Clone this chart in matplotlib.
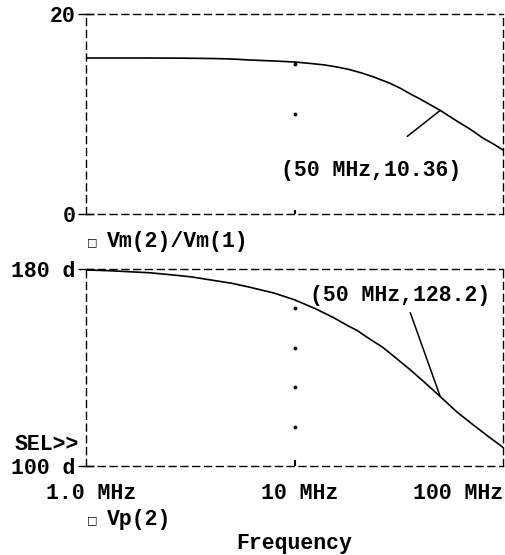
import numpy as np
import matplotlib
matplotlib.use('Agg')
import matplotlib.pyplot as plt
from matplotlib.transforms import ScaledTranslation

#%% Datos
freq_mag = [1, 2, 3, 4, 5, 6.1, 8, 10, 12, 14, 16, 18.3, 21, 24, 28.5,
            32, 36, 40, 45, 50, 60, 70, 80, 90, 100]                      # MHz
mag = [15.6, 15.6, 15.58, 15.55, 15.5, 15.4, 15.3, 15.2, 15.05, 14.9, 14.7,
       14.45, 14.1, 13.7, 13.1, 12.6, 12.0, 11.5, 10.9, 10.36, 9.3, 8.45,
       7.6, 7.0, 6.4]

freq_ph = [1, 1.3, 1.6, 2, 2.6, 3.2, 4, 5, 6.1, 8, 10, 12.5, 15.2, 18, 20,
           23, 26.4, 30, 36, 42, 50, 60, 70, 85, 100]                     # MHz
phase = [179.6, 179.3, 178.9, 178.5, 177.6, 176.8, 175.5, 174.2, 172.6,
         170.2, 167.5, 164, 160.5, 157, 155, 151.5, 148.3, 144.5, 139, 134,
         128.2, 122, 117.5, 112, 107.6]

grid_mag = [10, 15]
grid_ph = [116, 132, 148, 164]

xticks = [1, 10, 100]
xticklabels = ['1.0 MHz', '10 MHz', '100 MHz']

cursor_f = 50
cursor_mag = 10.36
cursor_ph = 128.2

#%% Estilo
FONT = 'Liberation Mono'
FS = 15.5
plt.rcParams['font.family'] = [FONT, 'DejaVu Sans']
plt.rcParams['font.weight'] = 'bold'

W, H = 505, 555
fig = plt.figure(figsize=(W / 100, H / 100), dpi=100)


def px(x0, y0, x1, y1):
    return [x0 / W, 1 - y1 / H, (x1 - x0) / W, (y1 - y0) / H]


ax1 = fig.add_axes(px(86, 14, 503, 214))
ax2 = fig.add_axes(px(86, 269, 503, 466))

dash = (0, (5, 3.5))
for ax in (ax1, ax2):
    ax.set_xscale('log')
    ax.set_xlim(1, 100)
    for s in ax.spines.values():
        s.set_linestyle(dash)
        s.set_linewidth(1.0)
    ax.tick_params(axis='y', direction='inout', length=11, width=1.0,
                   labelsize=FS, pad=2)
    ax.tick_params(axis='x', which='both', direction='in', length=0)
    ax.minorticks_off()

#%% Magnitud
ax1.plot(freq_mag, mag, color='black', lw=1.2)
ax1.set_ylim(0, 20)
ax1.set_yticks([0, 20])
ax1.set_yticklabels(['0', '20'])
ax1.set_xticks([10])
ax1.set_xticklabels([])
ax1.tick_params(axis='x', length=3, width=1.5)
ax1.scatter([10] * len(grid_mag), grid_mag, s=3, color='black', zorder=3)

ax1.annotate('', xy=(cursor_f, cursor_mag), xytext=(-33, -26),
             textcoords='offset pixels',
             arrowprops=dict(arrowstyle='-', color='black', lw=1.1,
                             shrinkA=0, shrinkB=0))
ax1.annotate(f'({cursor_f} MHz,{cursor_mag})', xy=(cursor_f, cursor_mag),
             xytext=(-69, -60), textcoords='offset pixels',
             ha='center', va='center', fontsize=FS)

#%% Fase
ax2.plot(freq_ph, phase, color='black', lw=1.2)
ax2.set_ylim(100, 180)
ax2.set_yticks([100, 180])
ax2.set_yticklabels(['100 d', '180 d'])
ax2.set_xticks(xticks)
ax2.set_xticklabels(xticklabels, fontsize=FS)
ax2.tick_params(axis='x', length=0, pad=12)
labs = ax2.xaxis.get_ticklabels()
shift = ScaledTranslation(5 / 100, 0, fig.dpi_scale_trans)
for lab in labs[:-1]:
    lab.set_transform(lab.get_transform() + shift)
labs[-1].set_ha('right')
ax2.vlines(10, 100, 100 + 80 * 6 / 197, color='black', lw=1.5)
ax2.scatter([10] * len(grid_ph), grid_ph, s=3, color='black', zorder=3)

ax2.annotate('', xy=(cursor_f, cursor_ph), xytext=(-30, 84),
             textcoords='offset pixels',
             arrowprops=dict(arrowstyle='-', color='black', lw=1.1,
                             shrinkA=0, shrinkB=0))
ax2.annotate(f'({cursor_f} MHz,{cursor_ph})', xy=(cursor_f, cursor_ph),
             xytext=(-40, 101), textcoords='offset pixels',
             ha='center', va='center', fontsize=FS)

#%% Textos sueltos
sq = dict(family=['DejaVu Sans'], fontsize=8, fontweight='normal',
          va='center', ha='center')
fig.text(92 / W, 1 - 242 / H, '\u25a1', **sq)
fig.text(107 / W, 1 - 242 / H, 'Vm(2)/Vm(1)', fontsize=FS, va='center')
fig.text(92 / W, 1 - 520 / H, '\u25a1', **sq)
fig.text(107 / W, 1 - 520 / H, 'Vp(2)', fontsize=FS, va='center')
fig.text(15 / W, 1 - 444 / H, 'SEL>>', fontsize=FS, va='center')
fig.text(294 / W, 1 - 543 / H, 'Frequency', fontsize=FS, va='center', ha='center')

fig.savefig('out.png', dpi=100)
